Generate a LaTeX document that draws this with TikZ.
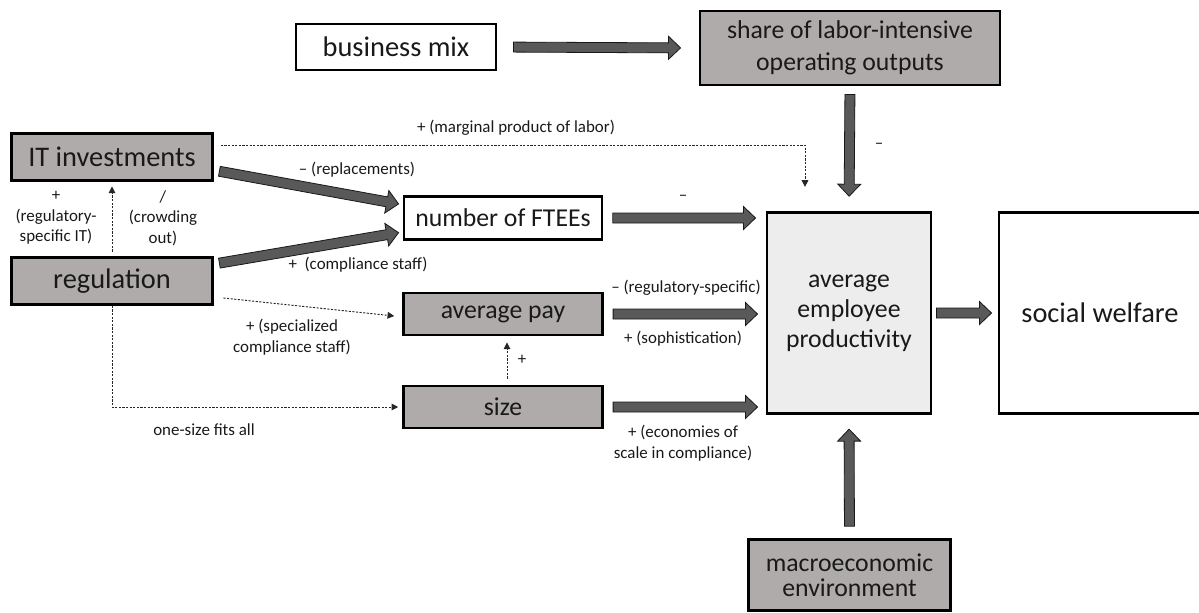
\documentclass[tikz,border=0pt]{standalone}
\usepackage{fontspec}
\setmainfont{Carlito}
\usetikzlibrary{arrows.meta,calc}
\definecolor{boxgrey}{HTML}{AFABAB}
\definecolor{arrgrey}{HTML}{595959}
\definecolor{prodgrey}{HTML}{EDEDED}

\begin{document}
\begin{tikzpicture}[x=.75pt,y=-.75pt,
  box/.style={draw=black,line width=2.2pt,align=center,inner sep=0pt,text=black!90},
  grey/.style={box,fill=boxgrey},
  big/.style={font=\fontsize{21.3}{26}\selectfont},
  mid/.style={font=\fontsize{19.3}{22.5}\selectfont},
  lbl/.style={font=\fontsize{12.7}{15.5}\selectfont,align=center,inner sep=0pt,text=black!90},
  dot/.style={draw=black!85,line width=.7pt,dash pattern=on 1.6pt off 1.1pt,-{Triangle[length=5pt,width=5pt]}},
  fat/.style 2 args={draw=black!90,line width=.6pt,fill=arrgrey,to path={
    let \p1=(\tikztostart),\p2=(\tikztotarget),
        \n1={atan2(\y2-\y1,\x2-\x1)},\n2={veclen(\x2-\x1,\y2-\y1)} in
    {[shift={(\p1)},rotate=\n1]
      (#1,-3.75pt) -- (\n2-#2-9pt,-3.75pt) -- (\n2-#2-9pt,-8.6pt) -- (\n2-#2,0pt)
      -- (\n2-#2-9pt,8.6pt) -- (\n2-#2-9pt,3.75pt) -- (#1,3.75pt) -- cycle}}},
]
\useasboundingbox (0,0) rectangle (1199,612);

% boxes
\node[box,big,minimum width=150pt,minimum height=34.5pt] (bmix) at (396,47) {business mix};
\node[grey,font=\fontsize{19.3}{24}\selectfont,minimum width=225pt,minimum height=55.5pt] (share) at (850,48) {share of labor-intensive\\operating outputs};
\node[grey,big,minimum width=151pt,minimum height=35pt] (itinv) at (112,157) {IT investments};
\node[grey,big,minimum width=151pt,minimum height=35pt] (reg) at (112,281) {regulation};
\node[box,mid,minimum width=148.5pt,minimum height=32pt] (ftee) at (503,218) {number of FTEEs};
\node[grey,mid,minimum width=149pt,minimum height=31.5pt] (pay) at (503,314) {average pay};
\node[grey,mid,minimum width=149pt,minimum height=31.5pt] (size) at (503,407) {size};
\node[box,mid,fill=prodgrey,minimum width=123pt,minimum height=151pt] (aep) at (849,313) {average\\employee\\productivity};
\node[box,big,minimum width=151.5pt,minimum height=151pt] (welfare) at (1100,313) {social welfare};
\node[grey,font=\fontsize{19.3}{18.5}\selectfont,minimum width=152pt,minimum height=53pt] (macro) at (849.5,575) {macroeconomic\\environment};

% block arrows
\draw[fat={12pt}{13.5pt}] (bmix.east) to (share.west);
\draw[fat={6pt}{11pt}] (share.south) to (aep.north);
\draw[fat={4pt}{3pt}] ([yshift=-10pt]itinv.east) to ([yshift=10pt]ftee.west);
\draw[fat={4pt}{3pt}] ([yshift=12.75pt]reg.east) to ([yshift=-10.5pt]ftee.west);
\draw[fat={7pt}{7.5pt}] (ftee.east) to (ftee.east -| aep.west);
\draw[fat={7pt}{6pt}] (pay.east) to (pay.east -| aep.west);
\draw[fat={7pt}{6pt}] (size.east) to (size.east -| aep.west);
\draw[fat={3pt}{4.5pt}] (aep.east) to (welfare.west);
\draw[fat={9pt}{10.5pt}] (macro.north) to (aep.south);

% dotted links
\draw[dot] ([xshift=5pt,yshift=9pt]itinv.east) -| ([xshift=-33pt,yshift=18pt]aep.north);
\draw[dot,shorten <=3.5pt,shorten >=3.5pt] (reg.north) -- (itinv.south);
\draw[dot] ([xshift=7pt,yshift=-12.75pt]reg.east) -- ([xshift=-6pt,yshift=-1.5pt]pay.west);
\draw[dot,shorten >=3pt] (reg.south) |- (size.west);
\draw[dot,shorten <=4.5pt,shorten >=4.5pt] ([xshift=3pt]size.north) -- ([xshift=3pt]pay.south);

% labels
\node[lbl] (lmpl) at (516,128) {+ (marginal product of labor)};
\node[lbl] (lrepl) at (357,170) {\textendash{} (replacements)};
\node[lbl] (lcomp) at (358,265) {+\ \ (compliance staff)};
\node[lbl] (lrit) at (56,218) {+\\(regulatory-\\specific IT)};
\node[lbl] (lcrowd) at (163,218) {/\\(crowding\\out)};
\node[lbl] (lspec) at (292,337) {+ (specialized\\compliance staff)};
\node[lbl] (lone) at (204,430) {one-size fits all};
\node[lbl] (lftee) at (683,198) {\textendash};
\node[lbl] (lregs) at (686,288) {\textendash{} (regulatory-specific)};
\node[lbl] (lsoph) at (683,339) {+ (sophistication)};
\node[lbl] (lecon) at (683,443) {+ (economies of\\scale in compliance)};
\node[lbl] (lshare) at (879,146) {\textendash};
\node[lbl] (lsize) at (522,360) {+};
\end{tikzpicture}
\end{document}
